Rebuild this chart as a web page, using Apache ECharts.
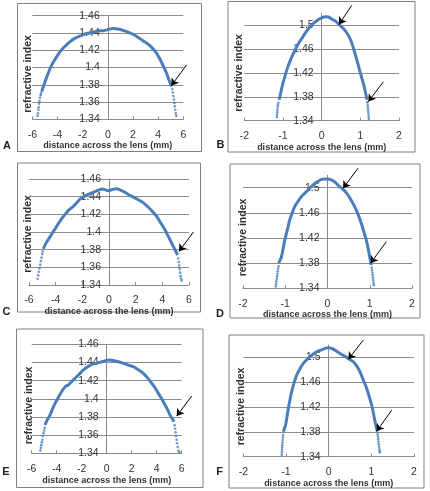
<!DOCTYPE html>
<html>
<head>
<meta charset="utf-8">
<script src="https://cdn.jsdelivr.net/npm/echarts@6/dist/echarts.min.js"></script>
<style>
html,body{margin:0;padding:0;background:#fff;}
#c{width:430px;height:491px;}
</style>
</head>
<body>
<div id="c"></div>
<script>
// ---------- data ----------
const panelLetters = ['A', 'B', 'C', 'D', 'E', 'F'];
const xTitle = 'distance across the lens (mm)';
const yTitle = 'refractive index';

// axis ranges: [min, max, interval]
const xRangeWide = [-6, 6, 2];
const xRangeNarrow = [-2, 2, 1];
const yRangeWide = [1.34, 1.46, 0.02];
const yRangeNarrow = [1.34, 1.52, 0.04];

// Panel A
const bodyA = [[-5.26,1.372],[-5.05,1.381],[-4.80,1.391],[-4.55,1.400],[-4.30,1.407],[-3.95,1.415],[-3.65,1.421],[-3.30,1.426],[-3.00,1.430],[-2.60,1.434],[-2.20,1.4365],[-1.80,1.439],[-1.40,1.440],[-1.00,1.4415],[-0.60,1.4425],[-0.20,1.443],[0.10,1.4445],[0.40,1.4452],[0.80,1.4445],[1.20,1.443],[1.60,1.441],[2.00,1.4385],[2.40,1.435],[2.80,1.431],[3.20,1.427],[3.50,1.423],[3.80,1.418],[4.10,1.411],[4.40,1.402],[4.65,1.394],[4.85,1.386],[5.07,1.378]];
const tailsA = [[-5.58,1.344],[-5.55,1.347],[-5.52,1.351],[-5.49,1.354],[-5.46,1.358],[-5.43,1.361],[-5.39,1.365],[-5.34,1.368],[-5.30,1.370],
                [5.12,1.375],[5.17,1.371],[5.21,1.367],[5.25,1.363],[5.29,1.359],[5.32,1.355],[5.36,1.351],[5.40,1.347],[5.44,1.344]];
const arrowsA = [[[6.26,1.403],[5.05,1.379]]];

// Panel B
const bodyB = [[-1.10,1.375],[-1.06,1.386],[-1.02,1.398],[-0.96,1.412],[-0.90,1.425],[-0.84,1.436],[-0.77,1.447],[-0.68,1.459],[-0.60,1.469],[-0.51,1.478],[-0.43,1.486],[-0.34,1.494],[-0.26,1.500],[-0.17,1.505],[-0.09,1.509],[0.00,1.512],[0.09,1.514],[0.18,1.5135],[0.26,1.510],[0.35,1.507],[0.45,1.501],[0.55,1.495],[0.64,1.488],[0.73,1.478],[0.80,1.466],[0.86,1.453],[0.92,1.439],[0.98,1.425],[1.04,1.411],[1.10,1.397],[1.14,1.385],[1.17,1.375]];
const tailsB = [[-1.16,1.346],[-1.155,1.350],[-1.15,1.354],[-1.145,1.358],[-1.14,1.362],[-1.13,1.366],[-1.12,1.370],
                [1.18,1.371],[1.19,1.367],[1.195,1.363],[1.20,1.359],[1.205,1.355],[1.21,1.351],[1.215,1.347],[1.22,1.343]];
const arrowsB = [[[0.776,1.533],[0.45,1.501]], [[1.595,1.405],[1.207,1.372]]];

// Panel C
const bodyC = [[-4.93,1.381],[-4.70,1.388],[-4.40,1.395],[-4.15,1.401],[-3.90,1.407],[-3.60,1.414],[-3.30,1.420],[-3.00,1.425],[-2.68,1.429],[-2.40,1.4335],[-2.15,1.4375],[-1.90,1.440],[-1.65,1.442],[-1.35,1.444],[-1.05,1.4457],[-0.80,1.4473],[-0.55,1.4487],[-0.30,1.448],[-0.05,1.4467],[0.15,1.4475],[0.35,1.4485],[0.58,1.449],[0.85,1.4475],[1.10,1.4457],[1.45,1.4425],[1.83,1.4395],[2.20,1.4365],[2.58,1.433],[2.95,1.428],[3.33,1.422],[3.60,1.417],[3.85,1.411],[4.10,1.405],[4.33,1.3985],[4.58,1.391],[4.83,1.3835],[5.05,1.377],[5.15,1.374]];
const tailsC = [[-5.36,1.347],[-5.31,1.351],[-5.26,1.355],[-5.21,1.359],[-5.16,1.363],[-5.11,1.367],[-5.06,1.371],[-5.01,1.375],[-4.97,1.378],
                [5.19,1.370],[5.23,1.366],[5.26,1.362],[5.30,1.358],[5.33,1.354],[5.37,1.350],[5.41,1.347],[5.45,1.345]];
const arrowsC = [[[6.33,1.400],[5.25,1.378]]];

// Panel D
const bodyD = [[-1.156,1.380],[-1.12,1.385],[-1.09,1.390],[-1.05,1.403],[-1.01,1.417],[-0.95,1.433],[-0.895,1.4486],[-0.84,1.459],[-0.777,1.4698],[-0.70,1.478],[-0.62,1.4857],[-0.54,1.491],[-0.46,1.4963],[-0.38,1.502],[-0.30,1.5069],[-0.22,1.510],[-0.146,1.5132],[-0.07,1.5138],[0.012,1.5138],[0.07,1.5128],[0.13,1.5111],[0.19,1.508],[0.248,1.5042],[0.31,1.5005],[0.367,1.4974],[0.43,1.493],[0.485,1.4883],[0.56,1.480],[0.643,1.4698],[0.72,1.458],[0.80,1.4433],[0.86,1.430],[0.919,1.4168],[0.96,1.404],[0.998,1.3903],[1.037,1.377]];
const tailsD = [[-1.225,1.343],[-1.217,1.347],[-1.21,1.351],[-1.20,1.355],[-1.193,1.359],[-1.185,1.363],[-1.176,1.367],[-1.168,1.371],[-1.16,1.375],
                [1.045,1.373],[1.053,1.369],[1.06,1.365],[1.068,1.361],[1.075,1.357],[1.082,1.353],[1.09,1.349],[1.097,1.345]];
const arrowsD = [[[0.722,1.531],[0.367,1.499]], [[1.393,1.414],[1.021,1.380]]];

// Panel E
const bodyE = [[-4.93,1.3712],[-4.75,1.377],[-4.53,1.3822],[-4.33,1.389],[-4.13,1.395],[-3.85,1.402],[-3.60,1.408],[-3.30,1.4135],[-3.07,1.4152],[-2.80,1.419],[-2.53,1.4226],[-2.20,1.427],[-1.87,1.4317],[-1.55,1.435],[-1.20,1.438],[-0.87,1.439],[-0.53,1.4402],[-0.20,1.4415],[0.13,1.4428],[0.40,1.4425],[0.67,1.4417],[1.00,1.4405],[1.33,1.4391],[1.73,1.437],[2.13,1.4354],[2.53,1.432],[2.93,1.4281],[3.27,1.423],[3.60,1.4171],[3.87,1.412],[4.13,1.406],[4.40,1.400],[4.67,1.3932],[4.87,1.388],[5.07,1.3822],[5.25,1.378],[5.39,1.3749]];
const tailsE = [[-5.31,1.343],[-5.27,1.346],[-5.23,1.349],[-5.19,1.352],[-5.15,1.355],[-5.10,1.359],[-5.05,1.362],[-5.00,1.365],[-4.96,1.368],
                [5.43,1.371],[5.47,1.367],[5.51,1.363],[5.55,1.359],[5.59,1.355],[5.63,1.351],[5.68,1.347],[5.74,1.343],[5.82,1.341]];
const arrowsE = [[[6.8,1.403],[5.6,1.381]]];

// Panel F
const bodyF = [[-1.0625,1.3803],[-1.035,1.386],[-1.008,1.391],[-0.975,1.405],[-0.945,1.4178],[-0.905,1.432],[-0.867,1.4447],[-0.81,1.459],[-0.75,1.4715],[-0.67,1.482],[-0.594,1.4903],[-0.515,1.496],[-0.4375,1.5011],[-0.36,1.5055],[-0.281,1.5091],[-0.20,1.5115],[-0.125,1.5134],[-0.065,1.515],[-0.008,1.5156],[0.05,1.5148],[0.109,1.5134],[0.19,1.510],[0.266,1.5064],[0.345,1.503],[0.4219,1.500],[0.50,1.4965],[0.578,1.493],[0.66,1.486],[0.734,1.4769],[0.81,1.464],[0.89,1.4501],[0.95,1.437],[1.008,1.4232],[1.05,1.410],[1.086,1.3964],[1.115,1.388],[1.14,1.3803]];
const tailsF = [[-1.10,1.343],[-1.097,1.347],[-1.093,1.351],[-1.09,1.355],[-1.086,1.359],[-1.082,1.363],[-1.077,1.367],[-1.072,1.371],[-1.067,1.375],
                [1.148,1.376],[1.155,1.372],[1.162,1.368],[1.168,1.364],[1.175,1.360],[1.181,1.356],[1.188,1.352],[1.194,1.349],[1.20,1.347]];
const arrowsF = [[[0.8125,1.528],[0.461,1.497]], [[1.477,1.415],[1.125,1.381]]];

const bodies = [bodyA, bodyB, bodyC, bodyD, bodyE, bodyF];
const tails = [tailsA, tailsB, tailsC, tailsD, tailsE, tailsF];
const arrows = [arrowsA, arrowsB, arrowsC, arrowsD, arrowsE, arrowsF];
const xRanges = [xRangeWide, xRangeNarrow, xRangeWide, xRangeNarrow, xRangeWide, xRangeNarrow];
const yRanges = [yRangeWide, yRangeNarrow, yRangeWide, yRangeNarrow, yRangeWide, yRangeNarrow];

// ---------- layout ----------
const grids = [
  {left: 32.3, top: 15.7, width: 151, height: 103.6},
  {left: 244.3, top: 13.1, width: 154.7, height: 107.6},
  {left: 29, top: 179, width: 160, height: 106},
  {left: 243, top: 175.1, width: 169, height: 113.2},
  {left: 31.7, top: 344.3, width: 150, height: 109},
  {left: 243.3, top: 345, width: 170.7, height: 111.7}
];
const nameGaps = [22, 20, 21, 21, 23, 19.5];
const boxes = [
  [17.5, 3.5, 184, 148], [228, 1.5, 187, 150.5],
  [17.5, 163, 183, 149], [230, 164, 190, 154],
  [16.5, 329, 186.5, 158.5], [229, 335, 195, 153]
];
const letterPos = [[7, 145.5], [220.5, 145], [6.5, 311.5], [220, 313.5], [6, 472], [219.5, 472]];
const yTitlePos = [[28.3, 74], [239.5, 73], [28.5, 234], [243, 237.5], [29.5, 405.5], [241.5, 406.5]];

const FONT = '"Liberation Sans", Arial, sans-serif';
const GRAY = '#8c8c8c';
const BLUE = '#4a7ebb';
const TXT = '#333333';

const chart = echarts.init(document.getElementById('c'), null, {renderer: 'canvas'});

// y axis crosses the x axis at x = 0 (the middle of each symmetric x range)
function zeroOffset(i) {
  const g = grids[i], r = xRanges[i];
  return -g.width * (0 - r[0]) / (r[1] - r[0]);
}

const option = {
  backgroundColor: '#ffffff',
  animation: false,
  grid: grids.map(g => Object.assign({containLabel: false, outerBoundsMode: 'none'}, g)),
  xAxis: grids.map((g, i) => ({
    gridIndex: i, type: 'value',
    min: xRanges[i][0], max: xRanges[i][1], interval: xRanges[i][2],
    axisLine: {show: true, onZero: false, lineStyle: {color: GRAY, width: 1}},
    axisTick: {show: true, inside: true, length: 3, lineStyle: {color: GRAY}},
    axisLabel: {fontSize: 10.5, fontFamily: FONT, color: TXT, margin: 10},
    splitLine: {show: false},
    name: xTitle, nameLocation: 'middle', nameGap: nameGaps[i],
    nameTextStyle: {fontSize: 9, fontWeight: 'bold', fontFamily: FONT, color: TXT}
  })),
  yAxis: grids.map((g, i) => ({
    gridIndex: i, type: 'value', position: 'left', offset: zeroOffset(i),
    min: yRanges[i][0], max: yRanges[i][1], interval: yRanges[i][2],
    axisLine: {show: true, onZero: false, lineStyle: {color: GRAY, width: 1}},
    axisTick: {show: false},
    axisLabel: {fontSize: 10.5, fontFamily: FONT, color: TXT, margin: 8,
                showMaxLabel: i % 2 === 0},
    splitLine: {show: true, showMaxLine: i % 2 === 0, lineStyle: {color: GRAY, width: 1}}
  })),
  series: [],
  graphic: []
};

for (let i = 0; i < 6; i++) {
  option.series.push({
    type: 'line', xAxisIndex: i, yAxisIndex: i, data: bodies[i],
    smooth: 0.3, showSymbol: false, clip: false,
    lineStyle: {color: BLUE, width: 3}, z: 3
  });
  option.series.push({
    type: 'scatter', xAxisIndex: i, yAxisIndex: i, data: tails[i],
    symbol: 'circle', symbolSize: 2.6, clip: false,
    itemStyle: {color: BLUE}, z: 3
  });
  option.series.push({
    type: 'lines', coordinateSystem: 'cartesian2d', xAxisIndex: i, yAxisIndex: i,
    data: arrows[i].map(a => ({coords: a})),
    symbol: ['none', 'arrow'], symbolSize: 7, clip: false, silent: true,
    lineStyle: {color: '#000', width: 1, opacity: 1, curveness: 0}, z: 5
  });
  const b = boxes[i];
  option.graphic.push({
    type: 'rect', silent: true, z: 0,
    shape: {x: b[0], y: b[1], width: b[2], height: b[3]},
    style: {fill: null, stroke: '#808080', lineWidth: 1}
  });
  option.graphic.push({
    type: 'text', silent: true, x: letterPos[i][0], y: letterPos[i][1],
    style: {text: panelLetters[i], font: 'bold 11px ' + FONT, fill: '#222',
            textAlign: 'center', textVerticalAlign: 'middle'}
  });
  option.graphic.push({
    type: 'text', silent: true, x: yTitlePos[i][0], y: yTitlePos[i][1], rotation: Math.PI / 2,
    style: {text: yTitle, font: 'bold 10.5px ' + FONT, fill: TXT,
            textAlign: 'center', textVerticalAlign: 'middle'}
  });
}

chart.setOption(option);
</script>
</body>
</html>
